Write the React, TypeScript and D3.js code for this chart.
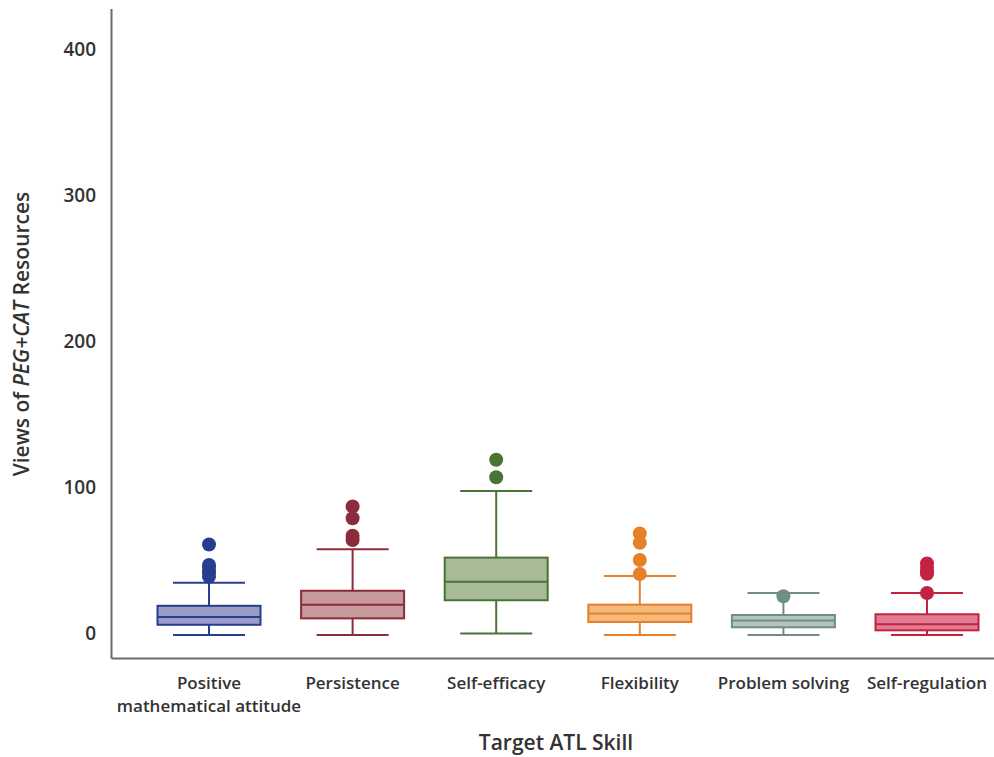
import React from "react";
import * as d3 from "d3";

const categories = [
  ["Positive", "mathematical attitude"],
  ["Persistence"],
  ["Self-efficacy"],
  ["Flexibility"],
  ["Problem solving"],
  ["Self-regulation"],
];
const lowerWhisker = [0, 0, 1, 0, 0, 0];
const q1 = [7, 11.4, 23.8, 8.9, 5.3, 3.2];
const medians = [12.3, 20.8, 36.5, 14.8, 10, 7.3];
const q3 = [20, 30.3, 53, 20.8, 13.7, 14.2];
const upperWhisker = [35.8, 58.7, 98.6, 40.4, 28.8, 28.8];
const outliers = [
  [62, 48, 46, 43, 40],
  [88, 80, 68, 65],
  [120, 108],
  [69.6, 63.2, 51.4, 41.8],
  [26.5],
  [49, 46, 43, 42, 28.8],
];
const strokes = ["#253f8e", "#8c2c3b", "#4b7334", "#e6812a", "#6e8f82", "#c52140"];
const fills = ["#9b9bc7", "#c6999b", "#a8bb99", "#f3b97b", "#b5c4bc", "#e27c93"];
const yTicks = [0, 100, 200, 300, 400];

const W = 994;
const H = 757;
const FONT = "'Open Sans', sans-serif";

export default function App() {
  const y = d3.scaleLinear().domain([0, 400]).range([635, 51]);
  const x = d3
    .scalePoint<number>()
    .domain(d3.range(categories.length))
    .range([209, 927]);
  const boxW = 103;
  const capW = 72;
  const axisX = 111.5;
  const axisY = 658.5;

  return (
    <svg
      width={W}
      height={H}
      style={{ position: "absolute", left: 0, top: 0, background: "#fff" }}
      fontFamily={FONT}
    >
      <line x1={axisX} x2={axisX} y1={9} y2={axisY} stroke="#6b6b6b" strokeWidth={2} />
      <line x1={axisX} x2={994} y1={axisY} y2={axisY} stroke="#6b6b6b" strokeWidth={2} />
      {yTicks.map((t) => (
        <text
          key={t}
          x={96}
          y={y(t) - 2}
          dy="0.35em"
          textAnchor="end"
          fontSize={19}
          fontWeight={600}
          fill="#333"
        >
          {t}
        </text>
      ))}
      <text
        transform={`translate(29,334) rotate(-90)`}
        textAnchor="middle"
        fontSize={21}
        fontWeight={600}
        fill="#333"
      >
        Views of <tspan fontStyle="italic">PEG+CAT</tspan> Resources
      </text>
      {categories.map((c, i) => {
        const cx = x(i) as number;
        return (
          <g key={i}>
            <line x1={cx} x2={cx} y1={y(upperWhisker[i])} y2={y(q3[i])} stroke={strokes[i]} strokeWidth={2} />
            <line x1={cx} x2={cx} y1={y(q1[i])} y2={y(lowerWhisker[i])} stroke={strokes[i]} strokeWidth={2} />
            <line x1={cx - capW / 2} x2={cx + capW / 2} y1={y(upperWhisker[i])} y2={y(upperWhisker[i])} stroke={strokes[i]} strokeWidth={2} />
            <line x1={cx - capW / 2} x2={cx + capW / 2} y1={y(lowerWhisker[i])} y2={y(lowerWhisker[i])} stroke={strokes[i]} strokeWidth={2} />
            <rect
              x={cx - boxW / 2}
              y={y(q3[i])}
              width={boxW}
              height={y(q1[i]) - y(q3[i])}
              fill={fills[i]}
              stroke={strokes[i]}
              strokeWidth={2}
            />
            <line x1={cx - boxW / 2} x2={cx + boxW / 2} y1={y(medians[i])} y2={y(medians[i])} stroke={strokes[i]} strokeWidth={2} />
            {outliers[i].map((o, j) => (
              <circle key={j} cx={cx} cy={y(o)} r={7} fill={strokes[i]} />
            ))}
            {c.map((line, k) => (
              <text
                key={k}
                x={cx}
                y={689 + k * 23}
                textAnchor="middle"
                fontSize={17}
                fontWeight={600}
                fill="#333"
              >
                {line}
              </text>
            ))}
          </g>
        );
      })}
      <text x={556} y={750} textAnchor="middle" fontSize={21} fontWeight={600} fill="#333">
        Target ATL Skill
      </text>
    </svg>
  );
}
